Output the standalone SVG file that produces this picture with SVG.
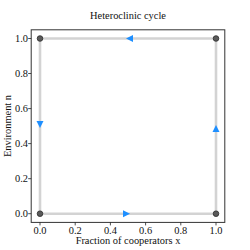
<svg xmlns="http://www.w3.org/2000/svg" width="250" height="250" viewBox="0 0 250 250" font-family="'Liberation Serif', 'Times New Roman', Times, serif">
<style>
text{font-family:'Liberation Serif','Times New Roman',Times,serif;font-size:10.4px;fill:#111}
.tx{text-anchor:middle}
.ty{text-anchor:end}
.edge{stroke:#d3d3d3;stroke-width:2.6;fill:none}
.dot{fill:#5a5a5a;stroke:#2a2a2a;stroke-width:0.8}
.arr{fill:#1e8fff}
.tick{stroke:#222;stroke-width:0.8}
</style>
<rect width="250" height="250" fill="#fff"/>
<text class="tx" x="128" y="19">Heteroclinic cycle</text>
<g id="connectors">
<path class="edge" d="M40,38.5H216"/>
<path class="edge" d="M40,213.7H216"/>
<path class="edge" d="M40,38.5V213.7"/>
<path class="edge" d="M216,38.5V213.7"/>
<polygon class="arr" points="126,38.5 133,35 133,42"/>
<polygon class="arr" points="130,213.7 123,210.2 123,217.2"/>
<polygon class="arr" points="40,128 36.5,121 43.5,121"/>
<polygon class="arr" points="216,125 212.5,132 219.5,132"/>
</g>
<g id="node-00"><circle class="dot" cx="40" cy="213.7" r="2.8"/></g>
<g id="node-10"><circle class="dot" cx="216" cy="213.7" r="2.8"/></g>
<g id="node-01"><circle class="dot" cx="40" cy="38.5" r="2.8"/></g>
<g id="node-11"><circle class="dot" cx="216" cy="38.5" r="2.8"/></g>
<rect x="31.2" y="29.8" width="193.6" height="192.6" fill="none" stroke="#333" stroke-width="1"/>
<g id="ticks">
<path class="tick" d="M40,222.4v3M75.2,222.4v3M110.4,222.4v3M145.6,222.4v3M180.8,222.4v3M216,222.4v3"/>
<path class="tick" d="M31.2,213.7h-3M31.2,178.7h-3M31.2,143.6h-3M31.2,108.6h-3M31.2,73.5h-3M31.2,38.5h-3"/>
</g>
<text class="tx" x="40" y="234">0.0</text>
<text class="tx" x="75.2" y="234">0.2</text>
<text class="tx" x="110.4" y="234">0.4</text>
<text class="tx" x="145.6" y="234">0.6</text>
<text class="tx" x="180.8" y="234">0.8</text>
<text class="tx" x="216" y="234">1.0</text>
<text class="ty" x="28" y="217">0.0</text>
<text class="ty" x="28" y="182">0.2</text>
<text class="ty" x="28" y="147">0.4</text>
<text class="ty" x="28" y="112">0.6</text>
<text class="ty" x="28" y="77">0.8</text>
<text class="ty" x="28" y="42">1.0</text>
<text class="tx" x="128" y="244">Fraction of cooperators x</text>
<text class="tx" transform="translate(11,126) rotate(-90)">Environment n</text>
</svg>
